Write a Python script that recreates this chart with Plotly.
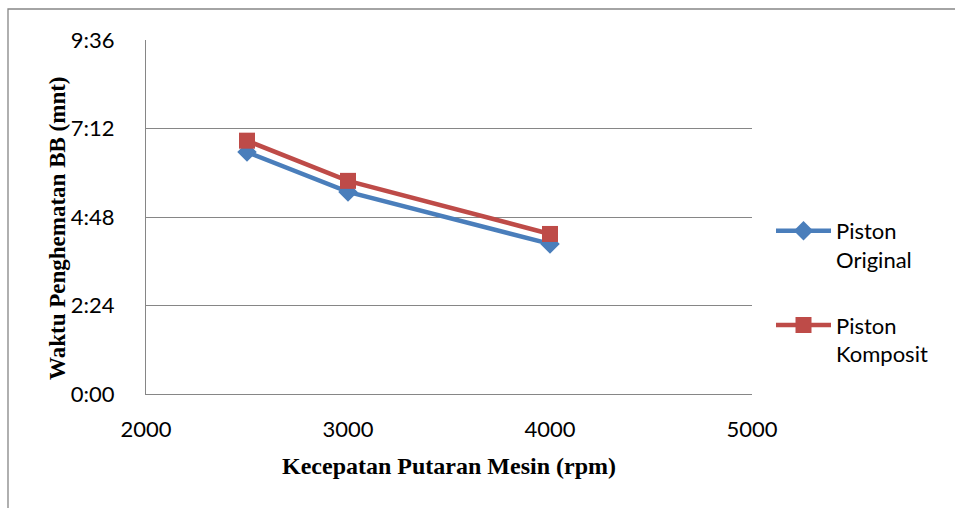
import plotly.graph_objects as go

rpm = [2500, 3000, 4000]
original = [6.56, 5.48, 4.07]   # minutes
komposit = [6.87, 5.78, 4.34]   # minutes
ytickvals = [0, 2.4, 4.8, 7.2, 9.6]
yticktext = ["0:00", "2:24", "4:48", "7:12", "9:36"]
xtickvals = [2000, 3000, 4000, 5000]

BLUE = "#4a7ebb"
RED = "#be4b48"
GRID = "#868686"
TICKFONT = dict(family="Lato, Open Sans, sans-serif", size=22, color="#000")
LEGFONT = dict(family="Lato, Open Sans, sans-serif", size=22, color="#000")
YTITLEFONT = dict(family="Liberation Serif, Times New Roman, serif", size=23, color="#000")
XTITLEFONT = dict(family="Liberation Serif, Times New Roman, serif", size=24, color="#000")

fig = go.Figure()
fig.add_trace(go.Scatter(
    x=rpm, y=original, mode="lines+markers", name="Piston<br>Original",
    line=dict(color=BLUE, width=4.5),
    marker=dict(symbol="diamond", size=15, color=BLUE),
    legendgroup="a",
))
fig.add_trace(go.Scatter(
    x=rpm, y=komposit, mode="lines+markers", name="Piston<br>Komposit",
    line=dict(color=RED, width=4.5),
    marker=dict(symbol="square", size=16, color=RED),
    legendgroup="b",
))

W, H = 955, 508
L, R, T, B = 146, 203, 40, 114
pw, ph = W - L - R, H - T - B

def px(x):
    return (x - L) / pw

def py(y):
    return (H - B - y) / ph

fig.add_shape(type="rect", xref="paper", yref="paper",
              x0=px(8), x1=px(980), y0=py(530), y1=py(9),
              line=dict(color=GRID, width=1.3), fillcolor="rgba(0,0,0,0)", layer="below")

fig.add_annotation(text="<b>Waktu Penghematan BB (mnt)</b>", textangle=-90,
                   xref="paper", yref="paper", x=px(57), y=py(228),
                   xanchor="center", yanchor="middle", showarrow=False, font=YTITLEFONT)

fig.update_layout(
    width=W, height=H,
    margin=dict(l=L, r=R, t=T, b=B),
    paper_bgcolor="white", plot_bgcolor="white",
    showlegend=True,
    legend=dict(x=px(771), y=py(210), xanchor="left", yanchor="top",
                font=LEGFONT, valign="top", tracegroupgap=34,
                traceorder="grouped", itemwidth=55,
                bgcolor="rgba(0,0,0,0)"),
    xaxis=dict(range=[2000, 5000], tickvals=xtickvals, showgrid=False,
               showline=True, linecolor=GRID, linewidth=1.3, zeroline=False,
               ticks="", tickfont=TICKFONT, ticklabelstandoff=15,
               title=dict(text="<b>Kecepatan Putaran Mesin (rpm)</b>", font=XTITLEFONT, standoff=16)),
    yaxis=dict(range=[0, 9.6], tickvals=ytickvals, ticktext=yticktext,
               showgrid=True, gridcolor=GRID, gridwidth=1.3,
               showline=True, linecolor=GRID, linewidth=1.3, zeroline=False,
               ticks="", tickfont=TICKFONT, ticklabelstandoff=26),
)

fig.write_html("out.html")
